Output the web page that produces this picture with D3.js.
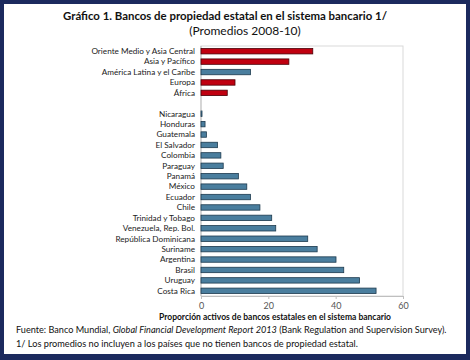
<!DOCTYPE html>
<html>
<head>
<meta charset="utf-8">
<script src="https://cdn.jsdelivr.net/npm/d3@7"></script>
<style>
  body { margin: 0; background: #1c2a5e; }
  svg { display: block; font-family: Lato, "Open Sans", sans-serif; }
</style>
</head>
<body>
<div id="chart"></div>
<script>
var svgWidth = 470;
var svgHeight = 360;

// regions (red) and countries (blue), top to bottom
var regions = ["Oriente Medio y Asia Central", "Asia y Pacífico", "América Latina y el Caribe", "Europa", "África"];
var regionValues = [33.2, 26.1, 14.7, 10.1, 7.8];
var regionColors = ["red", "red", "blue", "red", "red"];

var countries = ["Nicaragua", "Honduras", "Guatemala", "El Salvador", "Colombia", "Paraguay", "Panamá", "México",
  "Ecuador", "Chile", "Trinidad y Tobago", "Venezuela, Rep. Bol.", "República Dominicana", "Suriname",
  "Argentina", "Brasil", "Uruguay", "Costa Rica"];
var countryValues = [0.3, 1.2, 1.6, 4.9, 5.9, 6.6, 11.1, 13.6, 14.7, 17.5, 21.0, 22.2, 31.7, 34.5, 40.1, 42.4, 47.1, 52.0];

var xTicks = [0, 20, 40, 60];

var margin = { top: 46, right: 67, bottom: 64, left: 201 };
var width = svgWidth - margin.left - margin.right;
var height = svgHeight - margin.top - margin.bottom;

var rows = regions.map(function(r, i) { return { name: r, value: regionValues[i], color: regionColors[i] }; });
rows.push({ name: "", value: null, color: null });
countries.forEach(function(c, i) { rows.push({ name: c, value: countryValues[i], color: "blue" }); });

var fills = { red: "#c00010", blue: "#4a7e9e" };
var strokes = { red: "#4a0008", blue: "#1d3a4e" };

var svg = d3.select("#chart").append("svg")
  .attr("width", svgWidth)
  .attr("height", svgHeight);

// white panel inside navy frame
svg.append("rect")
  .attr("x", 4).attr("y", 4)
  .attr("width", svgWidth - 8).attr("height", svgHeight - 10)
  .attr("fill", "#fff");

svg.append("text")
  .attr("x", 225).attr("y", 20)
  .attr("text-anchor", "middle")
  .attr("font-size", "12px")
  .attr("font-weight", "bold")
  .attr("fill", "#111")
  .attr("textLength", 324)
  .attr("lengthAdjust", "spacingAndGlyphs")
  .text("Gráfico 1. Bancos de propiedad estatal en el sistema bancario 1/");

svg.append("text")
  .attr("x", 245).attr("y", 35)
  .attr("text-anchor", "middle")
  .attr("font-size", "12px")
  .attr("fill", "#111")
  .text("(Promedios 2008-10)");

var chartGroup = svg.append("g")
  .attr("transform", `translate(${margin.left}, ${margin.top})`);

var xScale = d3.scaleLinear().domain([0, 60]).range([0, width]);
var yScale = d3.scaleBand()
  .domain(rows.map(function(d, i) { return i; }))
  .range([0, height])
  .paddingInner(0.48)
  .paddingOuter(0.24);

// plot frame
chartGroup.append("rect")
  .attr("width", width).attr("height", height)
  .attr("fill", "none")
  .attr("stroke", "#d9d9d9");

chartGroup.append("line")
  .attr("x1", 0).attr("x2", 0).attr("y1", 0).attr("y2", height)
  .attr("stroke", "#bfbfbf");

var bottomAxis = d3.axisBottom(xScale).tickValues(xTicks).tickSize(3).tickPadding(4);
var xAxis = chartGroup.append("g")
  .attr("transform", `translate(0, ${height})`)
  .call(bottomAxis);
xAxis.select(".domain").attr("stroke", "#bfbfbf");
xAxis.selectAll(".tick line").attr("stroke", "#bfbfbf");
xAxis.selectAll("text").attr("font-size", "9px").attr("fill", "#555").attr("font-family", "Lato, sans-serif");

var dataRows = rows.map(function(d, i) { return { d: d, i: i }; }).filter(function(o) { return o.d.value !== null; });

chartGroup.selectAll("rect.bar")
  .data(dataRows)
  .enter()
  .append("rect")
  .attr("class", "bar")
  .attr("x", xScale(0))
  .attr("y", function(o) { return yScale(o.i); })
  .attr("width", function(o) { return xScale(o.d.value) - xScale(0); })
  .attr("height", yScale.bandwidth())
  .attr("fill", function(o) { return fills[o.d.color]; })
  .attr("stroke", function(o) { return strokes[o.d.color]; })
  .attr("stroke-width", 0.8);

chartGroup.selectAll("text.cat")
  .data(dataRows)
  .enter()
  .append("text")
  .attr("class", "cat")
  .attr("x", -6)
  .attr("y", function(o) { return yScale(o.i) + yScale.bandwidth() / 2; })
  .attr("dy", "0.35em")
  .attr("text-anchor", "end")
  .attr("font-size", "8.2px")
  .attr("fill", "#222")
  .text(function(o) { return o.d.name; });

// axis title
svg.append("text")
  .attr("x", 275).attr("y", 320)
  .attr("text-anchor", "middle")
  .attr("font-size", "8.5px")
  .attr("font-weight", "bold")
  .attr("fill", "#111")
  .text("Proporción activos de bancos estatales en el sistema bancario");

var note1 = svg.append("text")
  .attr("x", 16).attr("y", 333)
  .attr("font-size", "9.15px")
  .attr("fill", "#111");
note1.append("tspan").text("Fuente: Banco Mundial, ");
note1.append("tspan").attr("font-style", "italic").text("Global Financial Development Report 2013");
note1.append("tspan").text(" (Bank Regulation and Supervision Survey).");

svg.append("text")
  .attr("x", 16).attr("y", 347)
  .attr("font-size", "9.2px")
  .attr("fill", "#111")
  .text("1/ Los promedios no incluyen a los países que no tienen bancos de propiedad estatal.");
</script>
</body>
</html>
